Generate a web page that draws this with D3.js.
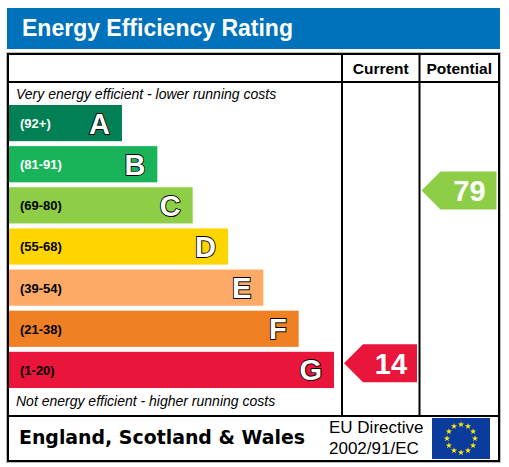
<!DOCTYPE html>
<html>
<head>
<meta charset="utf-8">
<script src="https://cdn.jsdelivr.net/npm/d3@7"></script>
<style>
  body { margin: 0; background: #fff; }
  svg { display: block; }
  text { font-family: "Liberation Sans", Arial, sans-serif; }
</style>
</head>
<body>
<div id="chart"></div>
<script>
(function() {
  'use strict';

  var bandLetters = ['A', 'B', 'C', 'D', 'E', 'F', 'G'];
  var bandRanges = ['(92+)', '(81-91)', '(69-80)', '(55-68)', '(39-54)', '(21-38)', '(1-20)'];
  var bandLow = [92, 81, 69, 55, 39, 21, 1];
  var bandHigh = [100, 91, 80, 68, 54, 38, 20];
  var bandColors = ['#008054', '#19b459', '#8dce46', '#ffd500', '#fcaa65', '#ef8023', '#e9153b'];
  var rangeColors = ['#fff', '#fff', '#000', '#000', '#000', '#000', '#000'];
  var columnLabels = ['Current', 'Potential'];
  var ratingValues = [14, 79];

  var width = 509,
    height = 467,
    left = 8,
    right = 499,
    top = 54,
    bottom = 461,
    headRow = 82,
    footRow = 416,
    colX = [342, 419.5, right];

  var svg = d3.select('#chart')
    .append('svg')
    .attr('width', width)
    .attr('height', height);

  // title banner
  svg.append('rect')
    .attr('x', 7).attr('y', 8)
    .attr('width', 493).attr('height', 41)
    .attr('fill', '#0072bc');
  svg.append('text')
    .attr('x', 22).attr('y', 36)
    .attr('fill', '#fff')
    .style('font-size', '23px')
    .style('font-weight', 'bold')
    .text('Energy Efficiency Rating');

  var y = d3.scaleBand()
    .domain(bandLetters)
    .range([102.5, 390.5])
    .paddingInner(0.12)
    .paddingOuter(0.06);

  var w = d3.scaleLinear()
    .domain([0, bandLetters.length - 1])
    .range([113, 325]);

  var bands = bandLetters.map(function(l, i) {
    return { letter: l, range: bandRanges[i], lo: bandLow[i], hi: bandHigh[i],
      color: bandColors[i], textColor: rangeColors[i], i: i };
  });

  var g = svg.append('g').attr('class', 'bands');
  var row = g.selectAll('g').data(bands).enter().append('g')
    .attr('transform', function(d) { return 'translate(' + (left + 1) + ',' + y(d.letter) + ')'; });

  row.append('rect')
    .attr('width', function(d) { return w(d.i); })
    .attr('height', y.bandwidth())
    .attr('fill', function(d) { return d.color; });

  row.append('text')
    .attr('x', 11)
    .attr('y', y.bandwidth() / 2 + 5)
    .attr('fill', function(d) { return d.textColor; })
    .style('font-size', '13px')
    .style('font-weight', 'bold')
    .text(function(d) { return d.range; });

  row.append('text')
    .attr('x', function(d) { return w(d.i) - 12; })
    .attr('y', y.bandwidth() / 2 + 10.5)
    .attr('text-anchor', 'end')
    .attr('fill', '#fff')
    .attr('stroke', '#000')
    .attr('stroke-width', 1.8)
    .attr('paint-order', 'stroke')
    .style('font-size', '29px')
    .style('font-weight', 'bold')
    .text(function(d) { return d.letter; });

  svg.append('text')
    .attr('x', 16).attr('y', 99)
    .style('font-size', '14px')
    .style('font-style', 'italic')
    .text('Very energy efficient - lower running costs');
  svg.append('text')
    .attr('x', 16).attr('y', 406)
    .style('font-size', '14px')
    .style('font-style', 'italic')
    .text('Not energy efficient - higher running costs');

  // rating arrows
  function bandOf(v) {
    for (var i = 0; i < bands.length; i++) {
      if (v >= bands[i].lo && v <= bands[i].hi) return bands[i];
    }
    return bands[bands.length - 1];
  }

  ratingValues.forEach(function(v, c) {
    var b = bandOf(v);
    var frac = (v - b.lo) / (b.hi - b.lo);
    var cy = y(b.letter) + y.bandwidth() * (1 - frac);
    var x0 = colX[c] + 2, x1 = colX[c + 1] - 2.5;
    var hh = 19, tip = 19;
    var arrow = svg.append('g');
    arrow.append('path')
      .attr('d', 'M' + x0 + ',' + cy + 'L' + (x0 + tip) + ',' + (cy - hh) +
        'L' + x1 + ',' + (cy - hh) + 'L' + x1 + ',' + (cy + hh) +
        'L' + (x0 + tip) + ',' + (cy + hh) + 'Z')
      .attr('fill', b.color);
    arrow.append('text')
      .attr('x', (x0 + tip + x1) / 2 + 1)
      .attr('y', cy + 10.5)
      .attr('text-anchor', 'middle')
      .attr('fill', '#fff')
      .style('font-size', '29px')
      .style('font-weight', 'bold')
      .text(v);
  });

  // frame and grid
  var lines = svg.append('g')
    .attr('stroke', '#000')
    .attr('stroke-width', 2)
    .attr('fill', 'none');
  svg.insert('rect', ':first-child')
    .attr('x', left - 1.5).attr('y', top - 1.5)
    .attr('width', right - left + 3).attr('height', bottom - top + 3)
    .attr('fill', 'none')
    .attr('stroke', '#bbb')
    .attr('stroke-width', 1);
  lines.append('rect')
    .attr('x', left).attr('y', top)
    .attr('width', right - left).attr('height', bottom - top);
  lines.append('line')
    .attr('x1', left).attr('x2', right)
    .attr('y1', headRow).attr('y2', headRow);
  lines.append('line')
    .attr('x1', left).attr('x2', right)
    .attr('y1', footRow).attr('y2', footRow);
  colX.slice(0, 2).forEach(function(x) {
    lines.append('line')
      .attr('x1', x).attr('x2', x)
      .attr('y1', top).attr('y2', footRow);
  });

  columnLabels.forEach(function(label, c) {
    svg.append('text')
      .attr('x', (colX[c] + colX[c + 1]) / 2)
      .attr('y', 74)
      .attr('text-anchor', 'middle')
      .style('font-size', '15.5px')
      .style('font-weight', 'bold')
      .text(label);
  });

  // footer
  svg.append('text')
    .attr('x', 19).attr('y', 444)
    .attr('textLength', 286)
    .attr('lengthAdjust', 'spacingAndGlyphs')
    .style('font-family', '"DejaVu Sans", Verdana, sans-serif')
    .style('font-size', '20px')
    .style('font-weight', 'bold')
    .text('England, Scotland & Wales');
  svg.append('text')
    .attr('x', 329).attr('y', 433)
    .style('font-size', '17px')
    .text('EU Directive');
  svg.append('text')
    .attr('x', 329).attr('y', 454)
    .style('font-size', '17px')
    .text('2002/91/EC');

  var flag = svg.append('g').attr('transform', 'translate(432,418)');
  flag.append('rect').attr('width', 58).attr('height', 41).attr('fill', '#0b3b9c');
  var star = d3.symbol().type(d3.symbolStar).size(12);
  d3.range(12).forEach(function(k) {
    var a = k / 12 * 2 * Math.PI;
    flag.append('path')
      .attr('d', star)
      .attr('fill', '#ffed00')
      .attr('transform', 'translate(' + (29 + 14 * Math.sin(a)) + ',' + (20.5 - 14 * Math.cos(a)) + ')');
  });
})();
</script>
</body>
</html>
